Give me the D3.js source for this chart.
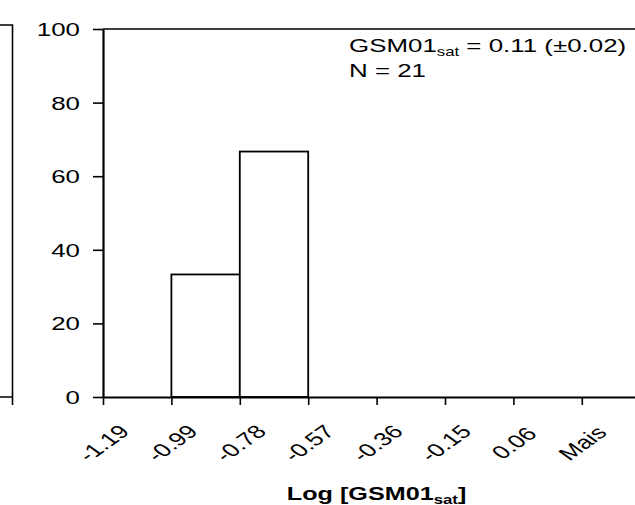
<!DOCTYPE html>
<html>
<head>
<meta charset="utf-8">
<script src="https://cdn.jsdelivr.net/npm/d3@7"></script>
<style>
  body { margin: 0; background: #fff; }
  svg { display: block; font-family: "Liberation Sans", Arial, sans-serif; }
</style>
</head>
<body>
<svg id="chart" width="635" height="505"></svg>
<script>
// histogram bins (upper limits) and frequency in %
var binLabels = ["-1.19", "-0.99", "-0.78", "-0.57", "-0.36", "-0.15", "0.06", "Mais"];
var freq = [0, 33.3, 66.7, 0, 0, 0, 0, 0];
var yTicks = [0, 20, 40, 60, 80, 100];
var statLabel = "0.11 (\u00b10.02)";
var nLabel = "N = 21";

var sx = 1.4; // picture is stretched sideways
var fs = 18.5;

var svg = d3.select("#chart");
var plotLeft = 103, plotTop = 29, plotBottom = 397;

var x = d3.scaleLinear()
    .domain([0, binLabels.length])
    .range([plotLeft, plotLeft + binLabels.length * 68.4]);
var y = d3.scaleLinear()
    .domain([0, 100])
    .range([plotBottom, plotTop]);

// bit of the neighbouring chart's frame on the left
svg.append("path")
    .attr("d", "M0,25H12.5V405M0,397H12.5")
    .attr("fill", "none")
    .attr("stroke", "#000")
    .attr("stroke-width", 1.6);

// plot area top border
svg.append("line")
    .attr("x1", plotLeft).attr("x2", 635)
    .attr("y1", y(100)).attr("y2", y(100))
    .attr("stroke", "#000")
    .attr("stroke-width", 1.6);

// bars
svg.selectAll(".bar")
    .data(freq.map(function(v, i) { return {i: i, v: v}; }).filter(function(d) { return d.v > 0; }))
    .enter().append("rect")
    .attr("class", "bar")
    .attr("x", function(d) { return x(d.i); })
    .attr("width", function(d) { return x(d.i + 1) - x(d.i); })
    .attr("y", function(d) { return y(d.v); })
    .attr("height", function(d) { return y(0) - y(d.v); })
    .attr("fill", "#fff")
    .attr("stroke", "#000")
    .attr("stroke-width", 1.8);

// y axis
var yAxis = svg.append("g")
    .attr("transform", "translate(" + plotLeft + ",0)")
    .call(d3.axisLeft(y).tickValues(yTicks).tickSize(10).tickSizeOuter(0));
yAxis.select(".domain").attr("stroke-width", 2.2);
yAxis.selectAll(".tick line").attr("stroke-width", 1.6);
yAxis.selectAll(".tick text").remove();
yAxis.selectAll(".tick").append("text")
    .attr("transform", "translate(-23,6.5) scale(" + sx + ",1)")
    .attr("text-anchor", "end")
    .attr("fill", "#000")
    .style("font-size", fs + "px")
    .text(function(d) { return d; });

// x axis
var xAxis = svg.append("g")
    .attr("transform", "translate(0," + plotBottom + ")")
    .call(d3.axisBottom(x).tickValues(d3.range(binLabels.length)).tickSize(8).tickSizeOuter(0));
xAxis.select(".domain").attr("stroke-width", 2.2);
xAxis.selectAll(".tick line").attr("stroke-width", 1.6);
xAxis.selectAll(".tick text").remove();
xAxis.selectAll(".tick").append("text")
    .attr("transform", "translate(0,46) scale(" + sx + ",1) rotate(-45)")
    .attr("text-anchor", "middle")
    .attr("dy", "0.35em")
    .attr("fill", "#000")
    .style("font-size", fs + "px")
    .text(function(d) { return binLabels[d]; });

// axis title
var title = svg.append("text")
    .attr("transform", "translate(" + (x(0) + x(8)) / 2 + ",500) scale(" + sx + ",1)")
    .attr("text-anchor", "middle")
    .style("font-size", "18px")
    .style("font-weight", "bold");
title.append("tspan").text("Log [GSM01");
title.append("tspan").attr("dy", 4).style("font-size", "12px").text("sat");
title.append("tspan").attr("dy", -4).text("]");

// annotation
var ann = svg.append("text")
    .attr("transform", "translate(349,52) scale(" + sx + ",1)")
    .style("font-size", fs + "px");
ann.append("tspan").text("GSM01");
ann.append("tspan").attr("dy", 4).style("font-size", "12px").text("sat");
ann.append("tspan").attr("dy", -4).text(" = " + statLabel);

svg.append("text")
    .attr("transform", "translate(349,77) scale(" + sx + ",1)")
    .style("font-size", fs + "px")
    .text(nLabel);
</script>
</body>
</html>
